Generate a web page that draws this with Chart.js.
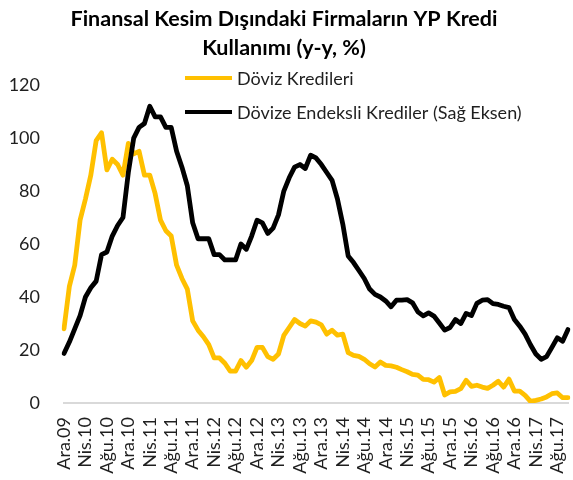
<!DOCTYPE html>
<html>
<head>
<meta charset="utf-8">
<script src="https://cdn.jsdelivr.net/npm/chart.js@4.4.1/dist/chart.umd.min.js"></script>
<style>
    html, body { margin: 0; padding: 0; background: #fff; }
    #wrap { width: 573px; height: 480px; }
</style>
</head>
<body>
<div id="wrap"><canvas id="creditChart"></canvas></div>
<script>
// Monthly categories, Ara.09 - Eki.17
const categories = [
    'Ara.09',
    'Oca.10', 'Şub.10', 'Mar.10', 'Nis.10', 'May.10', 'Haz.10', 'Tem.10', 'Ağu.10', 'Eyl.10', 'Eki.10', 'Kas.10', 'Ara.10',
    'Oca.11', 'Şub.11', 'Mar.11', 'Nis.11', 'May.11', 'Haz.11', 'Tem.11', 'Ağu.11', 'Eyl.11', 'Eki.11', 'Kas.11', 'Ara.11',
    'Oca.12', 'Şub.12', 'Mar.12', 'Nis.12', 'May.12', 'Haz.12', 'Tem.12', 'Ağu.12', 'Eyl.12', 'Eki.12', 'Kas.12', 'Ara.12',
    'Oca.13', 'Şub.13', 'Mar.13', 'Nis.13', 'May.13', 'Haz.13', 'Tem.13', 'Ağu.13', 'Eyl.13', 'Eki.13', 'Kas.13', 'Ara.13',
    'Oca.14', 'Şub.14', 'Mar.14', 'Nis.14', 'May.14', 'Haz.14', 'Tem.14', 'Ağu.14', 'Eyl.14', 'Eki.14', 'Kas.14', 'Ara.14',
    'Oca.15', 'Şub.15', 'Mar.15', 'Nis.15', 'May.15', 'Haz.15', 'Tem.15', 'Ağu.15', 'Eyl.15', 'Eki.15', 'Kas.15', 'Ara.15',
    'Oca.16', 'Şub.16', 'Mar.16', 'Nis.16', 'May.16', 'Haz.16', 'Tem.16', 'Ağu.16', 'Eyl.16', 'Eki.16', 'Kas.16', 'Ara.16',
    'Oca.17', 'Şub.17', 'Mar.17', 'Nis.17', 'May.17', 'Haz.17', 'Tem.17', 'Ağu.17', 'Eyl.17', 'Eki.17'
];

// Döviz kredileri, y-y %
const fxLoans = [
    28,
    44, 52, 69, 77, 86, 99, 102, 88, 92, 90, 86, 98,
    94, 95, 86, 86, 79, 69, 65, 63, 52, 47, 43, 31,
    27.5, 25, 22, 17, 17, 15, 12, 12, 16, 13.5, 16, 21,
    21, 17.5, 16.5, 18.5, 25.5, 28.5, 31.5, 30, 29, 31, 30.5, 29.5,
    26, 27.5, 25.6, 26, 19, 18, 17.6, 16.5, 14.8, 13.6, 15.5, 14.2,
    14, 13.5, 12.6, 11.8, 10.8, 10.5, 8.9, 8.8, 7.9, 9.6, 3, 4.2,
    4.4, 5.4, 8.6, 6.3, 6.7, 6, 5.5, 6.7, 8.2, 6, 9, 4.5,
    4.5, 2.9, 0.6, 1, 1.5, 2.3, 3.5, 3.8, 2, 2
];

// Dövize endeksli krediler, y-y %
const fxIndexedLoans = [
    18.7,
    23, 28, 33, 40, 43.5, 46, 56, 57, 63, 67, 70, 87,
    100, 104, 105.5, 112, 108, 108, 104, 104, 95, 89, 82, 68,
    62, 62, 62, 56, 56, 54, 54, 54, 60, 58, 63, 69,
    68, 64, 66, 71, 80, 85, 89, 90, 88.5, 93.5, 92.5, 90,
    87, 84, 77, 67.5, 55.5, 53, 50, 47, 43, 41, 40, 38.5,
    36.3, 38.8, 38.8, 39, 37.8, 34.4, 32.9, 34, 32.8, 30.2, 27.5, 28.5,
    31.5, 30, 33.8, 33, 37.6, 38.8, 39, 37.5, 37.2, 36.5, 36, 31.5,
    29, 26, 22, 18.5, 16.5, 17.5, 21, 24.6, 23.3, 27.7
];

const yTicks = [0, 20, 40, 60, 80, 100, 120];

const seriesNames = ['Döviz Kredileri', 'Dövize Endeksli Krediler (Sağ Eksen)'];
const seriesColors = ['#FFC000', '#000000'];

const FONT = 'Lato, "Liberation Sans", sans-serif';
const TEXT = '#1f1f1f';

// legend is drawn inside the plot, two rows, left aligned
const insideLegend = {
    id: 'insideLegend',
    afterDatasetsDraw(chart, args, opts) {
        const ctx = chart.ctx;
        ctx.save();
        ctx.font = '18px ' + FONT;
        ctx.textBaseline = 'middle';
        ctx.textAlign = 'left';
        seriesNames.forEach((name, i) => {
            const y = opts.y + i * opts.rowGap;
            ctx.strokeStyle = seriesColors[i];
            ctx.lineWidth = 4;
            ctx.beginPath();
            ctx.moveTo(opts.x, y);
            ctx.lineTo(opts.x + opts.lineLength, y);
            ctx.stroke();
            ctx.fillStyle = TEXT;
            ctx.fillText(name, opts.x + opts.lineLength + 5, y + 1);
        });
        ctx.restore();
    }
};

new Chart(document.getElementById('creditChart'), {
    type: 'line',
    data: {
        labels: categories,
        datasets: [
            {
                label: seriesNames[0],
                data: fxLoans,
                borderColor: seriesColors[0],
                borderWidth: 4.8,
                order: 1
            },
            {
                label: seriesNames[1],
                data: fxIndexedLoans,
                borderColor: seriesColors[1],
                borderWidth: 4.8,
                order: 0
            }
        ]
    },
    options: {
        responsive: true,
        maintainAspectRatio: false,
        animation: false,
        layout: { padding: { left: 0, right: 5, top: 0, bottom: 0 } },
        elements: {
            point: { radius: 0 },
            line: { tension: 0, borderJoinStyle: 'round', borderCapStyle: 'round' }
        },
        plugins: {
            legend: { display: false },
            tooltip: { enabled: false },
            title: {
                display: true,
                text: ['Finansal Kesim Dışındaki Firmaların YP Kredi', 'Kullanımı (y-y, %)'],
                color: '#000',
                font: { family: FONT, size: 21.5, weight: 'bold', lineHeight: 1.35 },
                padding: { top: 5, bottom: 22 }
            },
            insideLegend: { x: 185, y: 78, rowGap: 34, lineLength: 47 }
        },
        scales: {
            x: {
                grid: { display: false, drawTicks: false },
                border: { display: true, color: '#d9d9d9', width: 2 },
                ticks: {
                    autoSkip: false,
                    minRotation: 90,
                    maxRotation: 90,
                    padding: 14,
                    color: TEXT,
                    font: { family: FONT, size: 18 },
                    callback: function (value, index) {
                        return index % 4 === 0 ? categories[index] : '';
                    }
                },
                afterFit: function (scale) {
                    scale.height = 77;
                    scale.paddingLeft = 0;
                    scale.paddingRight = 0;
                }
            },
            y: {
                min: 0,
                max: 120,
                grid: { display: false, drawTicks: false },
                border: { display: false },
                afterBuildTicks: function (scale) {
                    scale.ticks = yTicks.map(v => ({ value: v }));
                },
                ticks: {
                    padding: 24,
                    color: TEXT,
                    font: { family: FONT, size: 18 }
                },
                afterFit: function (scale) { scale.width = 64; }
            }
        }
    },
    plugins: [insideLegend]
});
</script>
</body>
</html>
